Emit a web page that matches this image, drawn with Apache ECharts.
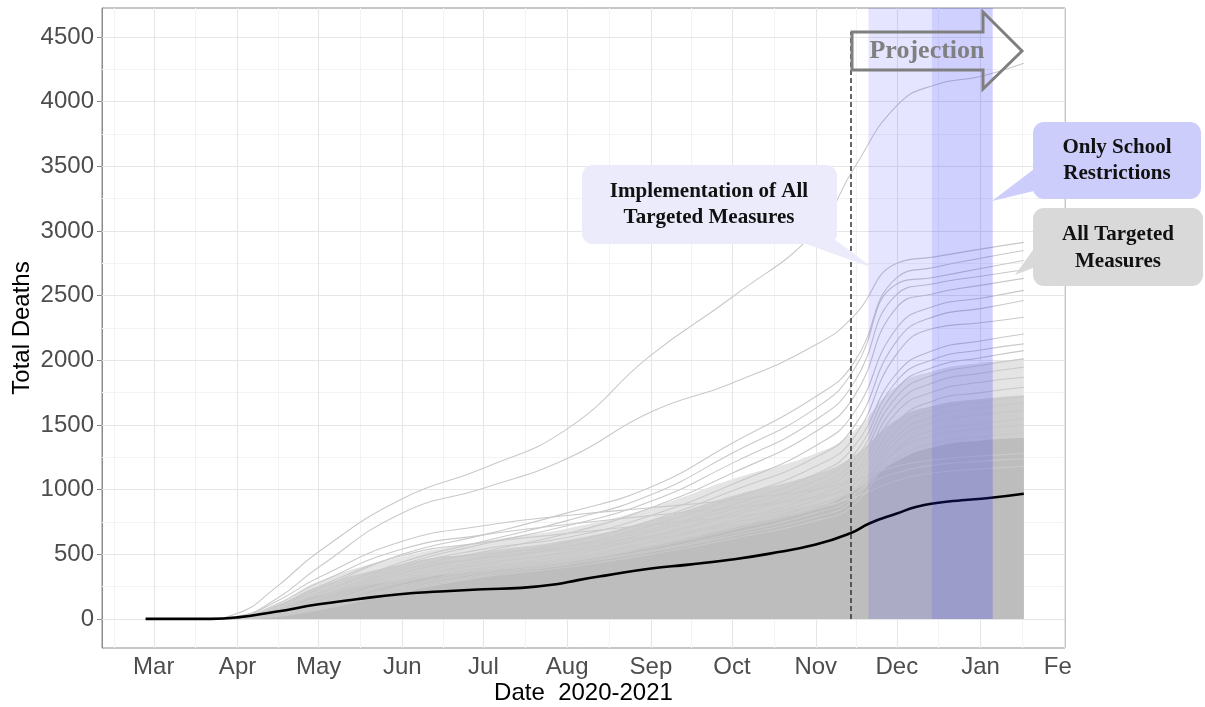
<!DOCTYPE html>
<html><head><meta charset="utf-8">
<script src="https://cdn.jsdelivr.net/npm/echarts@6/dist/echarts.min.js"></script>
<style>html,body{margin:0;padding:0;background:#fff}#c{width:1205px;height:707px}</style>
</head><body><div id="c"></div><script>
// ---- data ----
const gridDates = ['2020-02-27','2020-03-20','2020-04-01','2020-04-15','2020-05-01','2020-06-01','2020-07-01','2020-08-01','2020-09-01','2020-10-01','2020-11-01','2020-11-15','2020-12-01','2020-12-15','2021-01-01','2021-01-17'];
// envelopes of the many simulated curves: dense core, medium density, sparse fringe
const coreBulk  = [0,0,5,60,180,300,370,440,560,700,860,990,1220,1330,1380,1400];
const midBulk   = [0,0,10,90,250,420,520,610,760,950,1120,1260,1540,1650,1700,1730];
const outerBulk = [0,0,14,110,290,480,600,700,860,1080,1280,1450,1800,1920,1980,2010];
// individual visible curves
const greyRuns = [
  [0,0,43,240,520,930,1165,1470,2040,2488,3000,3480,3970,4130,4195,4297],
  [0,0,20,150,400,820,1011,1240,1600,1823,2120,2340,2750,2800,2860,2912],
  [0,0,12,90,230,500,650,820,1020,1358,1720,1978,2640,2720,2790,2850],
  [0,0,10,70,190,440,600,760,960,1281,1630,1923,2590,2643,2710,2772],
  [0,0,10,65,170,420,580,720,910,1203,1540,1823,2510,2594,2650,2700],
  [0,0,8,55,150,380,520,660,860,1126,1450,1715,2410,2517,2580,2634],
  [0,0,8,60,160,400,540,630,800,1040,1340,1591,2250,2420,2480,2541],
  [0,0,6,45,130,350,480,590,760,990,1250,1483,2150,2340,2400,2463],
  [0,0,6,40,125,330,450,560,720,930,1180,1400,2050,2250,2290,2333],
  [0,0,5,45,140,360,470,560,690,880,1120,1330,1900,2080,2150,2204],
  [0,0,5,35,110,300,420,520,670,850,1070,1270,1840,2010,2080,2127],
  [0,0,4,38,115,310,430,510,640,820,1030,1220,1780,1950,2020,2075],
  [0,0,4,30,100,280,400,490,630,800,1000,1180,1720,1890,1960,2011],
  [0,0,4,32,105,290,390,470,600,760,950,1120,1660,1830,1900,1946],
  [0,0,4,28,95,260,380,460,590,740,920,1080,1600,1760,1830,1869],
  [0,0,3,26,90,250,370,450,570,710,880,1030,1520,1690,1750,1792],
  [0,0,3,25,85,240,360,440,550,690,850,990,1460,1620,1680,1720],
  [0,0,3,22,80,230,345,430,530,660,820,950,1410,1570,1630,1670],
  [0,0,3,20,75,220,335,420,520,640,790,920,1370,1520,1580,1610],
  [0,0,2,18,70,210,325,400,500,620,760,880,1310,1460,1510,1550],
  [0,0,15,130,320,600,720,800,860,920,1000,1070,1180,1230,1260,1280],
  [0,0,12,110,280,540,650,730,800,860,940,1010,1130,1190,1220,1240],
  [0,0,10,95,250,490,590,660,730,790,870,940,1070,1130,1160,1180],
  [0,0,8,70,200,420,500,560,640,740,880,1000,1300,1420,1470,1500],
  [0,0,6,50,160,380,470,540,620,720,850,960,1240,1360,1410,1440]
];
const meanDates  = ['2020-02-27','2020-03-10','2020-03-22','2020-04-01','2020-04-15','2020-05-01','2020-05-15','2020-05-31','2020-06-15','2020-07-01','2020-07-15','2020-07-28','2020-08-05','2020-08-15','2020-09-01','2020-09-15','2020-10-01','2020-10-15','2020-11-01','2020-11-14','2020-11-21','2020-12-01','2020-12-08','2020-12-15','2020-12-25','2021-01-04','2021-01-17'];
const meanValues = [0,0,0,12,55,113,152,191,212,229,240,268,300,335,390,420,460,505,575,665,740,815,865,895,918,935,968];
// axes
const monthTicks  = ['2020-03-01','2020-04-01','2020-05-01','2020-06-01','2020-07-01','2020-08-01','2020-09-01','2020-10-01','2020-11-01','2020-12-01','2021-01-01','2021-02-01'];
const monthLabels = ['Mar','Apr','May','Jun','Jul','Aug','Sep','Oct','Nov','Dec','Jan','Fe'];
const minorMonthTicks = ['2020-02-15T12:00:00','2020-03-16T12:00:00','2020-04-16','2020-05-16T12:00:00','2020-06-16','2020-07-16T12:00:00','2020-08-16T12:00:00','2020-09-16','2020-10-16T12:00:00','2020-11-16','2020-12-16T12:00:00','2021-01-16T12:00:00'];
const yTicks = [0,500,1000,1500,2000,2500,3000,3500,4000,4500];
const yMinorTicks = [250,750,1250,1750,2250,2750,3250,3750,4250];
// annotations
const interventionDate = '2020-11-14';
const dashTop = 4540;
const bandAll = ['2020-11-20T12:00:00','2020-12-14'];
const bandSchool = ['2020-12-14','2021-01-05T12:00:00'];

const ts = s => +echarts.time.parse(s);
const pairs = (d, v) => d.map((x, i) => [ts(x), v[i]]);
const SANS = '"Liberation Sans", Arial, sans-serif';
const SERIF = '"Liberation Serif", "Times New Roman", serif';
const tickTs = monthTicks.map(ts);

const chart = echarts.init(document.getElementById('c'), null, {renderer: 'canvas'});
const series = [];
// background grid lines
series.push({
  type: 'line', data: [], z: 1, silent: true,
  markLine: {
    z: 1, silent: true, symbol: 'none', label: {show: false}, animation: false,
    data: [
      ...minorMonthTicks.map(d => ({xAxis: ts(d), lineStyle: {color: '#f3f3f3', width: 1, type: 'solid'}})),
      ...yMinorTicks.map(v => ({yAxis: v, lineStyle: {color: '#f3f3f3', width: 1, type: 'solid'}})),
      ...monthTicks.map(d => ({xAxis: ts(d), lineStyle: {color: '#e6e6e6', width: 1.1, type: 'solid'}})),
      ...yTicks.map(v => ({yAxis: v, lineStyle: {color: '#e6e6e6', width: 1.1, type: 'solid'}}))
    ]
  }
});
[[outerBulk, '#e4e4e4'], [midBulk, '#cecece'], [coreBulk, '#bdbdbd']].forEach(([arr, col]) =>
  series.push({type: 'line', z: 2, data: pairs(gridDates, arr), smooth: true, showSymbol: false, silent: true,
    lineStyle: {width: 0}, areaStyle: {color: col, opacity: 1}}));
greyRuns.forEach(run => series.push({type: 'line', z: 3, data: pairs(gridDates, run), smooth: true,
  showSymbol: false, silent: true, lineStyle: {color: '#c9c9c9', width: 1.1}}));
series.push({type: 'line', z: 4, data: pairs(meanDates, meanValues), smooth: true, showSymbol: false,
  silent: true, lineStyle: {color: '#000', width: 2.6}});
series.push({
  type: 'line', data: [], z: 5, silent: true,
  markArea: {z: 9, silent: true, data: [
    [{coord: [ts(bandAll[0]), 0], itemStyle: {color: 'rgba(40,40,255,0.12)'}}, {coord: [ts(bandAll[1]), 4725]}],
    [{coord: [ts(bandSchool[0]), 0], itemStyle: {color: 'rgba(40,40,255,0.22)'}}, {coord: [ts(bandSchool[1]), 4725]}]
  ]},
  markLine: {z: 10, silent: true, symbol: 'none', label: {show: false}, animation: false,
    lineStyle: {color: '#333', width: 1.5, type: [5, 3]},
    data: [[{coord: [ts(interventionDate), 0]}, {coord: [ts(interventionDate), dashTop]}]]}
});

const calloutText = (x, y, t) => ({type: 'text', x, y, z: 100, style: {text: t, font: 'bold 21px ' + SERIF, fill: '#111', align: 'center', verticalAlign: 'middle'}});

chart.setOption({
  animation: false,
  grid: {left: 102, right: 140, top: 8, bottom: 59, show: true, borderColor: '#8c8c8c', borderWidth: 1, backgroundColor: '#fff',
    containLabel: false, outerBoundsMode: 'none'},
  xAxis: {
    type: 'value', min: ts('2020-02-10T20:00:00'), max: ts('2021-02-01T06:00:00'),
    axisLine: {show: true, lineStyle: {color: '#8c8c8c', width: 1}},
    axisTick: {show: true, customValues: tickTs, length: 5, lineStyle: {color: '#8c8c8c'}},
    axisLabel: {customValues: tickTs, color: '#4d4d4d', fontSize: 24, fontFamily: SANS, margin: 7, hideOverlap: false,
      formatter: v => { const i = tickTs.indexOf(v); const l = i >= 0 ? monthLabels[i] : ''; return l === 'Fe' ? '{fe|Fe}' : l; },
      rich: {fe: {color: '#4d4d4d', fontSize: 24, fontFamily: SANS, padding: [0, 13, 0, 0]}}},
    splitLine: {show: false},
    name: 'Date  2020-2021', nameLocation: 'middle', nameGap: 33, nameMoveOverlap: false,
    nameTextStyle: {color: '#000', fontSize: 24, fontFamily: SANS}
  },
  yAxis: {
    type: 'value', min: -225, max: 4725,
    axisLine: {show: true, lineStyle: {color: '#8c8c8c', width: 1}},
    axisTick: {show: true, customValues: yTicks, length: 5, lineStyle: {color: '#8c8c8c'}},
    axisLabel: {customValues: yTicks, color: '#4d4d4d', fontSize: 24, fontFamily: SANS, margin: 8, formatter: v => String(v)},
    splitLine: {show: false},
    name: 'Total Deaths', nameLocation: 'middle', nameGap: 68, nameMoveOverlap: false,
    nameTextStyle: {color: '#000', fontSize: 24, fontFamily: SANS}
  },
  series,
  graphic: [
    {type: 'polygon', z: 100, shape: {points: [[852,32],[983,32],[983,12],[1022,51],[983,89],[983,70],[852,70]]},
      style: {fill: 'none', stroke: '#7f7f7f', lineWidth: 3, lineJoin: 'miter'}},
    {type: 'text', x: 927, y: 51, z: 100, style: {text: 'Projection', font: 'bold 26px ' + SERIF, fill: '#808080', align: 'center', verticalAlign: 'middle'}},
    {type: 'polygon', z: 99, shape: {points: [[795,240],[830,236],[873,268]]}, style: {fill: '#ebebfb'}},
    {type: 'rect', z: 99, shape: {x: 582, y: 165, width: 255, height: 79, r: 11}, style: {fill: '#ebebfb'}},
    calloutText(709, 192, 'Implementation of All'),
    calloutText(709, 218, 'Targeted Measures'),
    {type: 'polygon', z: 99, shape: {points: [[1038,166],[1038,190],[992,201]]}, style: {fill: '#cdcdfc'}},
    {type: 'rect', z: 99, shape: {x: 1033, y: 122, width: 168, height: 77, r: 11}, style: {fill: '#cdcdfc'}},
    calloutText(1117, 148, 'Only School'),
    calloutText(1117, 174, 'Restrictions'),
    {type: 'polygon', z: 99, shape: {points: [[1038,243],[1038,266],[1015,275]]}, style: {fill: '#d9d9d9'}},
    {type: 'rect', z: 99, shape: {x: 1033, y: 208, width: 170, height: 78, r: 11}, style: {fill: '#d9d9d9'}},
    calloutText(1118, 235, 'All Targeted'),
    calloutText(1118, 262, 'Measures')
  ]
});
</script></body></html>
